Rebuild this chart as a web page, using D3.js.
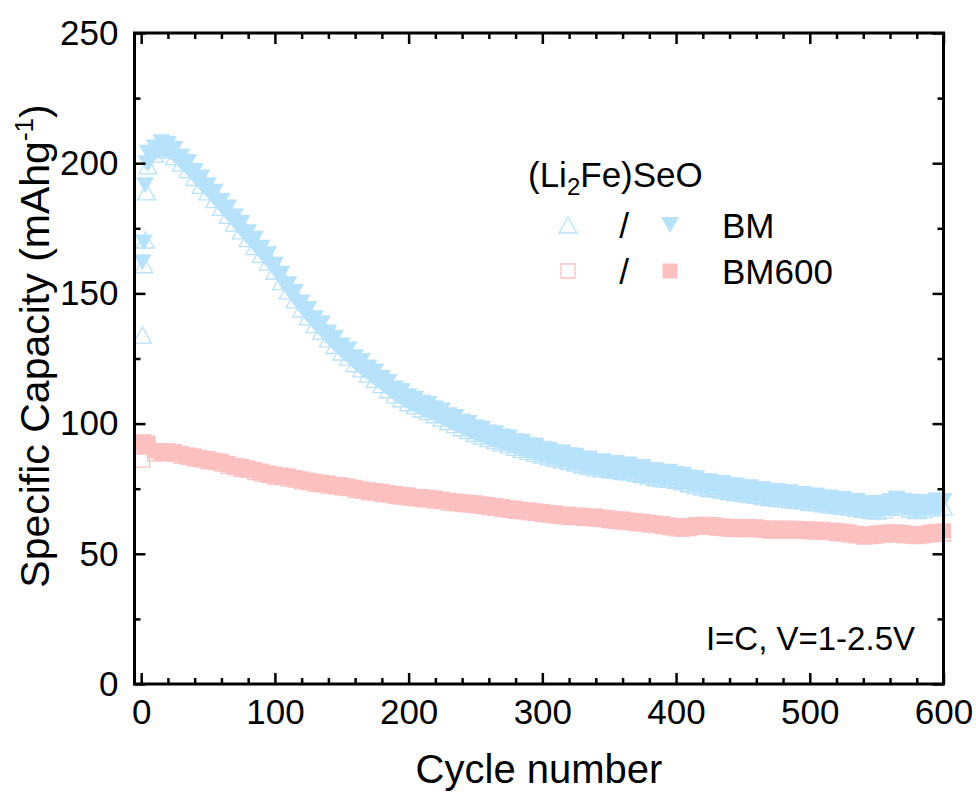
<!DOCTYPE html>
<html>
<head>
<meta charset="utf-8">
<script src="https://cdn.jsdelivr.net/npm/d3@7/dist/d3.min.js"></script>
<style>
body { margin: 0; background: #fff; }
text { font-family: "Liberation Sans", Arial, sans-serif; fill: #000; }
</style>
</head>
<body>
<svg id="chart"></svg>
<script>
// first four cycles, read one by one
var earlyCycles = [1, 2, 3, 4];
var bmChaEarly = [134, 161, 170.5, 189];
var bmDisEarly = [162, 169.5, 191.5, 200];
var bm600ChaEarly = [86, 91, 91.5, 92];
var bm600DisEarly = [93, 93, 92.5, 92.5];

// cycles 5..600, every 5th cycle
var cycles = d3.range(5, 601, 5);

var bmDis = [204,206,208,207.5,205.5,202.5,200.5,197,194.5,191.5,
  189,185.5,183,179.5,177,173.5,171,167.5,165,161,
  157.5,153.5,150.5,146.5,144,140.5,138.5,135,133,130,
  128.5,125.5,124,121.5,120,117.5,116,113.5,112.5,110.5,
  109.5,108,107.5,105.8,105,103.2,102.5,100.8,100.2,98.6,
  98,96.6,96.3,95,94.7,93.3,93,91.7,91.5,90.3,
  90,89,88.9,87.8,87.7,86.6,86.5,85.3,85.5,84.7,
  84.9,84,84.3,83.3,83.3,82.2,82.1,81.2,81.5,80.6,
  80.4,79.3,79,78,77.9,77.2,77.2,76.3,76.2,75.5,
  75.6,74.8,74.8,74,74.1,73.5,73.6,72.9,73,72.2,
  72.4,71.6,71.6,70.9,71,70.3,70.3,69.5,69.5,68.8,
  69.6,70.2,71.1,70.4,70,69,69.8,70,70.6,70.3];

var bmCha = [199,203.5,205.5,205,202.5,200,197.5,194.5,191.5,189,
  186,183,180,177,174,171,168,165,162,158.5,
  154.5,151,147.5,144,141,138,135.5,132.5,130,127.5,
  125.5,123,121,119,117,115,113,111,109.5,108,
  106.8,105.6,104.6,103.4,102.1,100.8,99.6,98.4,97.3,96.2,
  95.2,94.2,93.4,92.6,91.8,90.9,90.1,89.3,88.6,87.9,
  87.2,86.6,86,85.4,84.8,84.2,83.6,82.9,82.6,82.3,
  82,81.6,81.4,80.9,80.4,79.8,79.2,78.8,78.6,78.2,
  77.6,76.9,76.2,75.6,75.1,74.8,74.4,73.9,73.4,73.1,
  72.8,72.4,72,71.6,71.3,71.1,70.8,70.5,70.2,69.8,
  69.6,69.2,68.8,68.5,68.2,67.9,67.5,67.1,66.7,66.4,
  66.8,67.8,68.3,68,67.2,66.6,67,67.6,67.8,67.9];

var bm600Dis = [92.5,89.6,89.5,89.6,89.3,88.6,88,87.6,87,86.6,
  86,85.6,84.8,84,83.6,83,82.4,81.8,81.1,80.7,
  80.3,79.9,79.3,78.8,78.3,77.9,77.5,77.2,76.7,76.5,
  76,75.6,75,74.6,74.3,74,73.5,73.2,72.8,72.6,
  72.1,72,71.7,71.4,71,70.6,70.3,70.1,69.8,69.6,
  69.2,68.9,68.5,68.2,67.7,67.5,67.1,66.9,66.5,66.3,
  65.9,65.7,65.3,65.2,64.9,64.8,64.5,64.5,64.1,63.9,
  63.5,63.4,63,62.8,62.5,62.2,61.8,61.6,61.1,60.8,
  60.5,60.9,61.2,61.4,61.2,61.1,60.7,60.6,60.3,60.5,
  60.5,60.4,60,59.9,59.7,59.9,59.8,59.8,59.6,59.6,
  59.4,59.4,59.1,59,58.7,58.4,57.9,57.6,57.6,58,
  58.2,58.5,58.4,58.2,57.8,57.8,57.9,58.4,58.6,58.8];

var bm600Cha = [91.5,88.4,88.5,88.4,88.3,87.4,87,86.4,86,85.4,
  85,84.4,83.6,83,82.4,82,81.2,80.6,80.1,79.5,
  79.3,78.7,78.3,77.6,77.3,76.7,76.5,76,75.7,75.3,
  75,74.4,74,73.4,73.3,72.8,72.5,72,71.8,71.4,
  71.1,70.8,70.7,70.2,70,69.4,69.3,68.9,68.8,68.4,
  68.2,67.7,67.5,67,66.7,66.3,66.1,65.7,65.5,65.1,
  64.9,64.5,64.3,64,63.9,63.6,63.5,63.3,63.1,62.7,
  62.5,62.2,62,61.6,61.5,61,60.8,60.4,60.1,59.6,
  59.5,59.7,60.2,60.2,60.2,59.9,59.7,59.4,59.3,59.3,
  59.5,59.2,59,58.7,58.7,58.7,58.8,58.6,58.6,58.4,
  58.4,58.2,58.1,57.8,57.7,57.2,56.9,56.4,56.6,56.8,
  57.2,57.3,57.4,57,56.8,56.6,56.9,57.2,57.6,57.6];

var xTicks = [0, 100, 200, 300, 400, 500, 600];
var yTicks = [0, 50, 100, 150, 200, 250];

var blue = "#b7e2fb", pink = "#fcc0c0";

var W = 976, H = 796;
var pLeft = 134.5, pRight = 943.5, pTop = 33, pBottom = 684;

var svg = d3.select("#chart").attr("width", W).attr("height", H);

var x = d3.scaleLinear().domain([-5, 600]).range([pLeft, pRight]);
var y = d3.scaleLinear().domain([0, 250]).range([pBottom, pTop]);

function pts(xs, ys) {
  return xs.map(function (c, i) { return [c, ys[i]]; });
}

// marker shapes
var triUp = "M0,-8L9,8L-9,8Z";
var triDown = "M-9,-8L9,-8L0,8Z";
var sqOpen = "M-7,-7H7V7H-7Z";
var sqFill = "M-7.5,-7.5H7.5V7.5H-7.5Z";

// the markers sit so close in the original (one per cycle) that they merge into a band;
// fill the gaps between my 5-cycle samples with the band the markers cover
function drawBand(cha, dis, color, half) {
  var band = d3.area()
    .x(function (d, i) { return x(cycles[i]); })
    .y0(function (d, i) { return y(cha[i]) + half; })
    .y1(function (d, i) { return y(dis[i]) - half; });
  svg.append("path")
    .datum(cycles)
    .attr("d", band)
    .style("fill", color);
}

function drawSeries(cls, data, shape, color, filled) {
  svg.append("g").attr("class", cls)
    .selectAll("path")
    .data(data)
    .enter().append("path")
    .attr("d", shape)
    .attr("transform", function (d) { return "translate(" + x(d[0]) + "," + y(d[1]) + ")"; })
    .style("fill", filled ? color : "none")
    .style("stroke", filled ? "none" : color)
    .style("stroke-width", 1.3);
}

drawBand(bmCha, bmDis, blue, 6.5);
drawSeries("bm-cha", pts(earlyCycles, bmChaEarly).concat(pts(cycles, bmCha)), triUp, blue, false);
drawSeries("bm-dis", pts(earlyCycles, bmDisEarly).concat(pts(cycles, bmDis)), triDown, blue, true);
drawBand(bm600Cha, bm600Dis, pink, 7);
drawSeries("bm600-cha", pts(earlyCycles, bm600ChaEarly).concat(pts(cycles, bm600Cha)), sqOpen, pink, false);
drawSeries("bm600-dis", pts(earlyCycles, bm600DisEarly).concat(pts(cycles, bm600Dis)), sqFill, pink, true);

// axes, ticks pointing inward on all four sides
var xMinor = d3.range(0, 601, 20).filter(function (v) { return v % 100 != 0; });
var yMinor = d3.range(25, 250, 50);

function styleAxis(g) {
  g.select(".domain").remove();
  g.selectAll(".tick line").style("stroke", "#000").style("stroke-width", 2.5);
  g.selectAll(".tick text").style("font-size", "35px").style("font-family", "Liberation Sans, Arial, sans-serif");
}

svg.append("g").attr("transform", "translate(0," + pBottom + ")")
  .call(d3.axisBottom(x).tickValues(xTicks).tickSize(-11).tickPadding(15).tickFormat(d3.format("d")))
  .call(styleAxis);
svg.append("g").attr("transform", "translate(0," + pBottom + ")")
  .call(d3.axisBottom(x).tickValues(xMinor).tickSize(-6).tickFormat(""))
  .call(styleAxis);
svg.append("g").attr("transform", "translate(0," + pTop + ")")
  .call(d3.axisTop(x).tickValues(xTicks).tickSize(-11).tickFormat(""))
  .call(styleAxis);
svg.append("g").attr("transform", "translate(0," + pTop + ")")
  .call(d3.axisTop(x).tickValues(xMinor).tickSize(-6).tickFormat(""))
  .call(styleAxis);

svg.append("g").attr("transform", "translate(" + pLeft + ",0)")
  .call(d3.axisLeft(y).tickValues(yTicks).tickSize(-11).tickPadding(16))
  .call(styleAxis);
svg.append("g").attr("transform", "translate(" + pLeft + ",0)")
  .call(d3.axisLeft(y).tickValues(yMinor).tickSize(-6).tickFormat(""))
  .call(styleAxis);
svg.append("g").attr("transform", "translate(" + pRight + ",0)")
  .call(d3.axisRight(y).tickValues(yTicks).tickSize(-11).tickFormat(""))
  .call(styleAxis);
svg.append("g").attr("transform", "translate(" + pRight + ",0)")
  .call(d3.axisRight(y).tickValues(yMinor).tickSize(-6).tickFormat(""))
  .call(styleAxis);

svg.append("rect")
  .attr("x", pLeft).attr("y", pTop)
  .attr("width", pRight - pLeft).attr("height", pBottom - pTop)
  .style("fill", "none").style("stroke", "#000").style("stroke-width", 3);

// axis titles
svg.append("text")
  .attr("x", (pLeft + pRight) / 2).attr("y", 783)
  .attr("text-anchor", "middle")
  .style("font-size", "40px")
  .text("Cycle number");

var yt = svg.append("text")
  .attr("transform", "translate(49,346) rotate(-90)")
  .attr("text-anchor", "middle")
  .style("font-size", "41px");
yt.append("tspan").text("Specific Capacity (mAhg");
yt.append("tspan").attr("dy", -16).style("font-size", "26px").text("-1");
yt.append("tspan").attr("dy", 16).text(")");

// legend
var lt = svg.append("text").attr("x", 528).attr("y", 187).style("font-size", "35px");
lt.append("tspan").text("(Li");
lt.append("tspan").attr("dy", 8).style("font-size", "24px").text("2");
lt.append("tspan").attr("dy", -8).text("Fe)SeO");

var legendRows = [
  {label: "BM", open: triUp, fill: triDown, color: blue, y: 225},
  {label: "BM600", open: sqOpen, fill: sqFill, color: pink, y: 271}
];
legendRows.forEach(function (r) {
  svg.append("path").attr("d", r.open)
    .attr("transform", "translate(568," + r.y + ")")
    .style("fill", "none").style("stroke", r.color).style("stroke-width", 1.3);
  svg.append("text").attr("x", 624).attr("y", r.y + 13)
    .attr("text-anchor", "middle").style("font-size", "35px").text("/");
  svg.append("path").attr("d", r.fill)
    .attr("transform", "translate(670," + r.y + ")")
    .style("fill", r.color);
  svg.append("text").attr("x", 722).attr("y", r.y + 13)
    .style("font-size", "35px").text(r.label);
});

svg.append("text")
  .attr("x", 915).attr("y", 650)
  .attr("text-anchor", "end")
  .style("font-size", "33px")
  .text("I=C, V=1-2.5V");
</script>
</body>
</html>
